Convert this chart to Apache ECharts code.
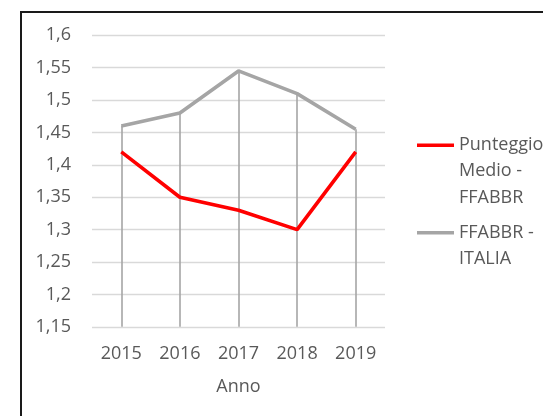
<!DOCTYPE html>
<html>
<head>
<meta charset="utf-8">
<script src="https://cdn.jsdelivr.net/npm/echarts@6/dist/echarts.min.js"></script>
<style>
  html, body { margin: 0; padding: 0; background: #fff; }
  #chart { width: 543px; height: 416px; }
</style>
</head>
<body>
<div id="chart"></div>
<script>
// dati
const anni = ['2015', '2016', '2017', '2018', '2019']
const punteggioFfabbr = [1.42, 1.35, 1.33, 1.30, 1.42]
const ffabbrItalia = [1.46, 1.48, 1.545, 1.51, 1.455]
const yMin = 1.15
const yMax = 1.6
const yStep = 0.05

const testo = '#595959'
const font = 'Open Sans'

const mycharts = echarts.init(document.getElementById('chart'))

// linee verticali dal punto più alto fino all'asse
const dropLines = anni.map((a, i) => [
  { coord: [a, Math.max(punteggioFfabbr[i], ffabbrItalia[i])] },
  { coord: [a, yMin] },
])

mycharts.setOption({
  animation: false,
  textStyle: { fontFamily: font },
  grid: { left: 92, right: 158, top: 35.3, bottom: 89.2 },
  graphic: [
    {
      type: 'rect',
      shape: { x: 21, y: 12, width: 700, height: 600 },
      style: { fill: 'none', stroke: '#1a1a1a', lineWidth: 2 },
      silent: true,
    },
  ],
  legend: {
    orient: 'vertical',
    left: 412,
    top: 126,
    itemWidth: 37,
    itemHeight: 80,
    itemGap: -5,
    textStyle: { color: testo, fontSize: 18, lineHeight: 26.5, fontFamily: font },
    formatter: (n) => n === 'Punteggio Medio - FFABBR' ? 'Punteggio\nMedio -\nFFABBR' : 'FFABBR -\nITALIA',
    data: [
      { name: 'Punteggio Medio - FFABBR', icon: 'path://M0,0h0.1v0.1h-0.1z M0,12.5h37v3.5h-37z M0,79.9h0.1v0.1h-0.1z' },
      { name: 'FFABBR - ITALIA', icon: 'path://M0,0h0.1v0.1h-0.1z M0,25h37v3.5h-37z M0,79.9h0.1v0.1h-0.1z' },
    ],
  },
  xAxis: {
    type: 'category',
    data: anni,
    boundaryGap: true,
    name: 'Anno',
    nameLocation: 'middle',
    nameGap: 51,
    nameTextStyle: { color: testo, fontSize: 18 },
    axisLine: { show: false },
    axisTick: { show: false },
    axisLabel: { color: testo, fontSize: 18, margin: 18 },
  },
  yAxis: {
    type: 'value',
    min: yMin,
    max: yMax,
    interval: yStep,
    axisLine: { show: false },
    axisTick: { show: false },
    axisLabel: {
      color: testo,
      fontSize: 18,
      margin: 21,
      formatter: (v) => String(Math.round(v * 100) / 100).replace('.', ','),
    },
    splitLine: { lineStyle: { color: '#d9d9d9', width: 1.3 } },
  },
  series: [
    {
      name: 'Punteggio Medio - FFABBR',
      type: 'line',
      data: punteggioFfabbr,
      color: '#ff0000',
      symbol: 'none',
      z: 4,
      lineStyle: { color: '#ff0000', width: 3.6 },
    },
    {
      name: 'FFABBR - ITALIA',
      type: 'line',
      data: ffabbrItalia,
      color: '#a5a5a5',
      symbol: 'none',
      z: 3,
      lineStyle: { color: '#a5a5a5', width: 3.6 },
      markLine: {
        silent: true,
        z: 1,
        symbol: 'none',
        label: { show: false },
        lineStyle: { color: '#a5a5a5', width: 1.6, type: 'solid' },
        data: dropLines,
      },
    },
  ],
})
</script>
</body>
</html>
